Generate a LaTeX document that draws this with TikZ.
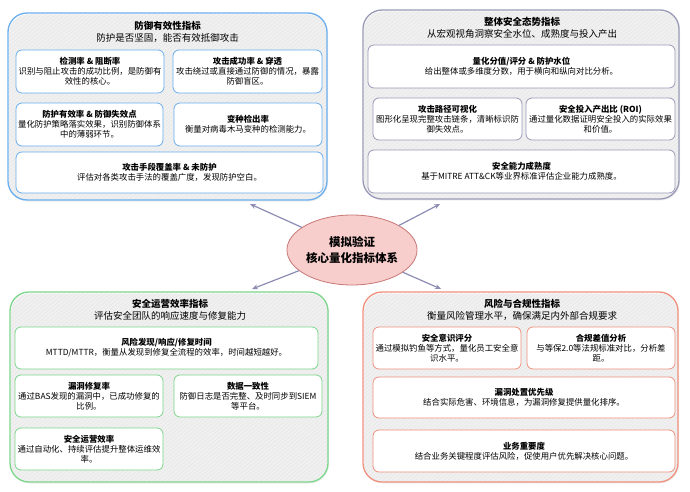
\documentclass[tikz,border=0pt]{standalone}
\usepackage{fontspec}
\setmainfont{Noto Sans CJK SC}
\usetikzlibrary{arrows.meta,patterns.meta,shadows,shapes.geometric}
\definecolor{cblue}{HTML}{6AAEEE}
\definecolor{cgray}{HTML}{9A9AB8}
\definecolor{cgreen}{HTML}{7CD68C}
\definecolor{cred}{HTML}{F0907E}
\definecolor{ellfill}{HTML}{F8CECC}
\definecolor{elldraw}{HTML}{C87676}
\definecolor{arrowc}{HTML}{8C8CB4}
\tikzset{
  cont/.style={draw, rounded corners=19pt, line width=1.3pt,
    pattern={Lines[angle=40,distance=3pt,line width=0.3pt]}, pattern color=black!11,
    drop shadow={opacity=0.12, shadow xshift=1pt, shadow yshift=-1.5pt},
    inner sep=0pt},
  ctitle/.style={align=center, font=\fontsize{9.5}{12}\selectfont, inner sep=0pt},
  ibox/.style={draw, rounded corners=6pt, fill=white, line width=0.8pt,
    align=center, inner sep=0pt, font=\fontsize{8.4}{10}\selectfont},
  link/.style={draw=arrowc, line width=1.2pt, -{Stealth[length=6pt,width=5pt]}}
}
\begin{document}
\begin{tikzpicture}[x=1pt,y=-1pt]
\useasboundingbox (0,0) rectangle (690,492);

% ---------- top-left ----------
\node[cont, draw=cblue, minimum width=319pt, minimum height=187pt] (tl) at (167.5,106.5) {};
\node[ctitle] (tlt) at (167.5,32) {\textbf{防御有效性指标}\\防护是否坚固，能否有效抵御攻击};
\node[ibox, draw=cblue, minimum width=148pt, minimum height=43pt] (tla) at (90,71.5)
  {\textbf{检测率 \& 阻断率}\\识别与阻止攻击的成功比例，是防御有\\效性的核心。};
\node[ibox, draw=cblue, minimum width=149pt, minimum height=43pt] (tlb) at (247.5,71.5)
  {\textbf{攻击成功率 \& 穿透}\\攻击绕过或直接通过防御的情况，暴露\\防御盲区。};
\node[ibox, draw=cblue, minimum width=147pt, minimum height=43pt] (tlc) at (89.5,124.5)
  {\textbf{防护有效率 \& 防御失效点}\\量化防护策略落实效果，识别防御体系\\中的薄弱环节。};
\node[ibox, draw=cblue, minimum width=148pt, minimum height=43pt] (tld) at (248,124.5)
  {\textbf{变种检出率}\\衡量对病毒木马变种的检测能力。};
\node[ibox, draw=cblue, minimum width=307pt, minimum height=41pt] (tle) at (169.5,172.5)
  {\textbf{攻击手段覆盖率 \& 未防护}\\评估对各类攻击手法的覆盖广度，发现防护空白。};

% ---------- top-right ----------
\node[cont, draw=cgray, minimum width=316pt, minimum height=189pt] (tr) at (521,104.5) {};
\node[ctitle] (trt) at (522,28) {\textbf{整体安全态势指标}\\从宏观视角洞察安全水位、成熟度与投入产出};
\node[ibox, draw=cgray, minimum width=307pt, minimum height=43pt] (tra) at (521.5,66.5)
  {\textbf{量化分值/评分 \& 防护水位}\\给出整体或多维度分数，用于横向和纵向对比分析。};
\node[ibox, draw=cgray, minimum width=149pt, minimum height=42pt] (trb) at (447.5,119)
  {\textbf{攻击路径可视化}\\图形化呈现完整攻击链条，清晰标识防\\御失效点。};
\node[ibox, draw=cgray, minimum width=149pt, minimum height=42pt] (trc) at (600.5,119)
  {\textbf{安全投入产出比 (ROI)}\\通过量化数据证明安全投入的实际效果\\和价值。};
\node[ibox, draw=cgray, minimum width=307pt, minimum height=43pt] (trd) at (521.5,171.5)
  {\textbf{安全能力成熟度}\\基于MITRE ATT\&CK等业界标准评估企业能力成熟度。};

% ---------- bottom-left ----------
\node[cont, draw=cgreen, minimum width=318pt, minimum height=190pt] (bl) at (169,387) {};
\node[ctitle] (blt) at (170,310) {\textbf{安全运营效率指标}\\评估安全团队的响应速度与修复能力};
\node[ibox, draw=cgreen, minimum width=303pt, minimum height=42pt] (bla) at (166.5,348)
  {\textbf{风险发现/响应/修复时间}\\MTTD/MTTR，衡量从发现到修复全流程的效率，时间越短越好。};
\node[ibox, draw=cgreen, minimum width=148pt, minimum height=42pt] (blb) at (89,396)
  {\textbf{漏洞修复率}\\通过BAS发现的漏洞中，已成功修复的\\比例。};
\node[ibox, draw=cgreen, minimum width=148pt, minimum height=42pt] (blc) at (248,396)
  {\textbf{数据一致性}\\防御日志是否完整、及时同步到SIEM\\等平台。};
\node[ibox, draw=cgreen, minimum width=148pt, minimum height=42pt] (bld) at (89,449)
  {\textbf{安全运营效率}\\通过自动化、持续评估提升整体运维效\\率。};

% ---------- bottom-right ----------
\node[cont, draw=cred, minimum width=315pt, minimum height=190pt] (br) at (520.5,387) {};
\node[ctitle] (brt) at (522,310) {\textbf{风险与合规性指标}\\衡量风险管理水平，确保满足内外部合规要求};
\node[ibox, draw=cred, minimum width=148pt, minimum height=42pt] (bra) at (447,348)
  {\textbf{安全意识评分}\\通过模拟钓鱼等方式，量化员工安全意\\识水平。};
\node[ibox, draw=cred, minimum width=148pt, minimum height=42pt] (brb) at (601,348)
  {\textbf{合规差值分析}\\与等保2.0等法规标准对比，分析差\\距。};
\node[ibox, draw=cred, minimum width=302pt, minimum height=41pt] (brc) at (524,397.5)
  {\textbf{漏洞处置优先级}\\结合实际危害、环境信息，为漏洞修复提供量化排序。};
\node[ibox, draw=cred, minimum width=302pt, minimum height=42pt] (brd) at (524,451)
  {\textbf{业务重要度}\\结合业务关键程度评估风险，促使用户优先解决核心问题。};

% ---------- centre ----------
\node[ellipse, draw=elldraw, fill=ellfill, line width=0.8pt, minimum width=110pt, minimum height=70pt,
  inner sep=0pt, align=center, font=\fontsize{11.5}{15.5}\selectfont\bfseries] (core) at (352,250)
  {模拟验证\\核心量化指标体系};

\coordinate (etl) at (250,204);
\coordinate (etr) at (440,204);
\coordinate (ebl) at (252,289);
\coordinate (ebr) at (441,289);
\draw[link] (core) -- (etl);
\draw[link] (core) -- (etr);
\draw[link] (core) -- (ebl);
\draw[link] (core) -- (ebr);
\end{tikzpicture}
\end{document}
